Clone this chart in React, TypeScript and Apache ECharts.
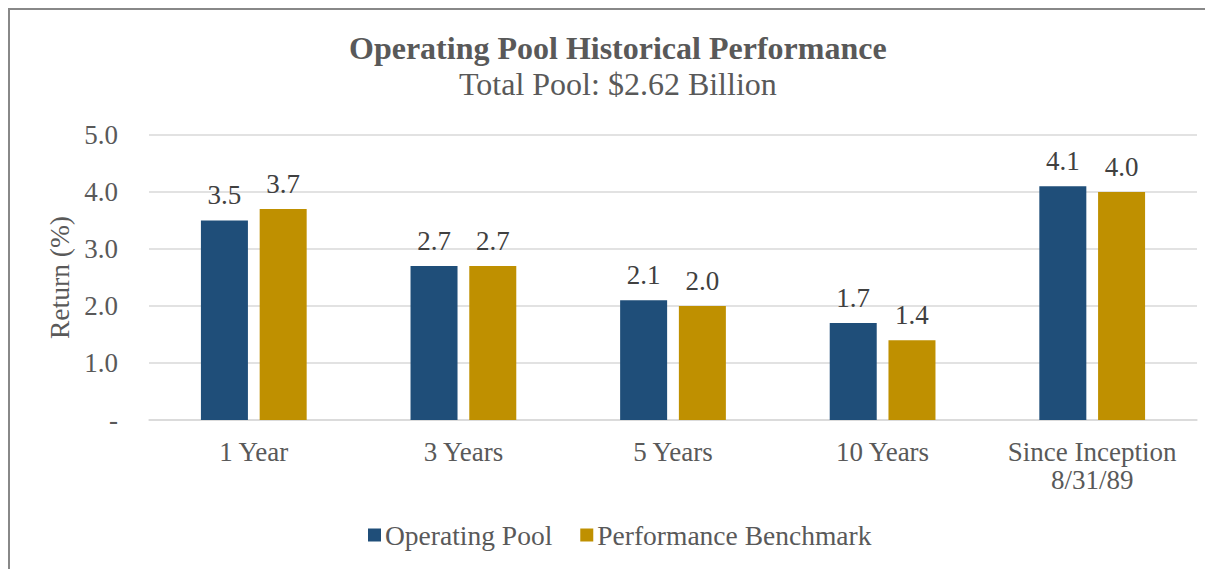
import React, { useEffect, useRef } from "react";
import * as echarts from "echarts";

const categories = ["1 Year", "3 Years", "5 Years", "10 Years", "Since Inception\n8/31/89"];
const operatingPool = [3.5, 2.7, 2.1, 1.7, 4.1];
const benchmark = [3.7, 2.7, 2.0, 1.4, 4.0];
const seriesNames = ["Operating Pool", "Performance Benchmark"];
const titleText = "Operating Pool Historical Performance";
const subtitleText = "Total Pool: $2.62 Billion";

const FONT = "'Liberation Serif', 'Times New Roman', serif";
const TXT = "#595959";

export default function App() {
  const ref = useRef<HTMLDivElement>(null);
  useEffect(() => {
    document.documentElement.style.overflow = "hidden";
    document.body.style.overflow = "hidden";
    const chart = echarts.init(ref.current!, undefined, { renderer: "svg" });
    const label = {
      show: true,
      position: "top",
      distance: 12,
      fontFamily: FONT,
      fontSize: 27,
      color: "#404040",
      formatter: (p: any) => Number(p.value).toFixed(1),
    };
    chart.setOption({
      animation: false,
      textStyle: { fontFamily: FONT },
      title: [
        {
          text: titleText,
          left: 334,
          top: 16,
          textStyle: { fontFamily: FONT, fontSize: 32, fontWeight: "bold", color: TXT, lineHeight: 34 },
        },
        {
          text: subtitleText,
          left: 444,
          top: 52,
          textStyle: { fontFamily: FONT, fontSize: 32, fontWeight: "normal", color: TXT, lineHeight: 34 },
        },
      ],
      legend: {
        bottom: 15,
        left: 353,
        itemWidth: 13,
        itemHeight: 13,
        itemGap: 28,
        icon: "rect",
        textStyle: { fontFamily: FONT, fontSize: 27.5, color: TXT, padding: [0, 0, 0, -1] },
        data: seriesNames,
      },
      grid: { left: 139, right: 16, top: 125, bottom: 149 },
      xAxis: {
        type: "category",
        data: categories,
        axisLine: { lineStyle: { color: "#d9d9d9", width: 1.5 } },
        axisTick: { show: false },
        axisLabel: { fontFamily: FONT, fontSize: 27, color: TXT, margin: 18, lineHeight: 28, interval: 0 },
      },
      yAxis: {
        type: "value",
        min: 0,
        max: 5,
        interval: 1,
        name: "Return (%)",
        nameLocation: "middle",
        nameGap: 76,
        nameTextStyle: { fontFamily: FONT, fontSize: 27.5, color: TXT },
        axisLine: { show: false },
        axisTick: { show: false },
        splitLine: { lineStyle: { color: "#d9d9d9", width: 1.5 } },
        axisLabel: {
          fontFamily: FONT,
          fontSize: 27,
          color: TXT,
          margin: 31,
          formatter: (v: number) => (v === 0 ? "-" : v.toFixed(1)),
        },
      },
      series: [
        {
          name: seriesNames[0],
          type: "bar",
          data: operatingPool,
          barWidth: 47,
          barGap: "25%",
          itemStyle: { color: "#1F4E79" },
          label,
        },
        {
          name: seriesNames[1],
          type: "bar",
          data: benchmark,
          barWidth: 47,
          barGap: "25%",
          itemStyle: { color: "#BF9000" },
          label,
        },
      ],
    });
    return () => chart.dispose();
  }, []);
  return (
    <div
      ref={ref}
      style={{
        width: 1205,
        height: 561,
        borderLeft: "2px solid #888",
        borderTop: "2px solid #888",
        boxSizing: "border-box",
        background: "#fff",
      }}
    />
  );
}
